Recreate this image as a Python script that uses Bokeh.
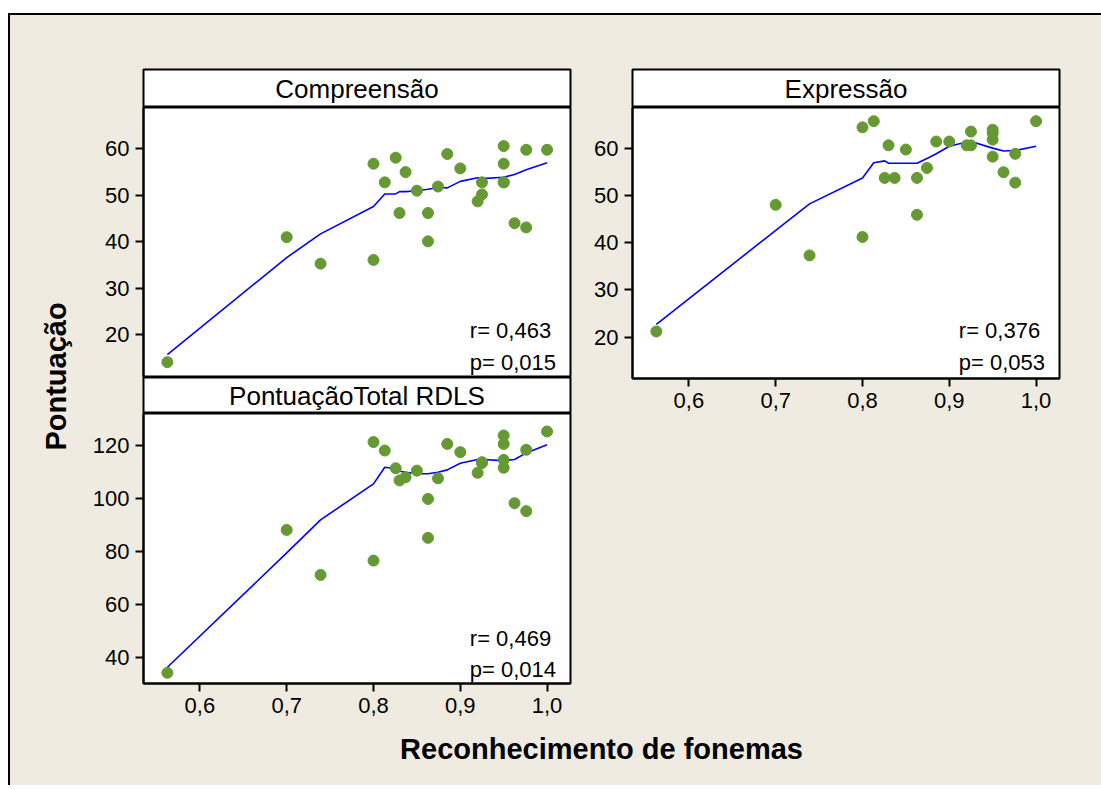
import math
from bokeh.plotting import figure
from bokeh.models import Range1d, LinearAxis, FixedTicker, CustomJSTickFormatter, Label
from bokeh.layouts import column, row
from bokeh.embed import file_html
from bokeh.resources import INLINE

# ---------------- data ----------------
fonemas = [0.5625, 0.70, 0.739, 0.80, 0.80, 0.813, 0.8256, 0.830, 0.837, 0.85,
           0.8628, 0.8628, 0.8743, 0.885, 0.90, 0.92, 0.925, 0.925,
           0.95, 0.95, 0.95, 0.95, 0.9625, 0.976, 0.976, 1.0]
compreensao = [14.1, 41.0, 35.3, 36.1, 56.8, 52.8, 58.1, 46.2, 55.0, 51.0,
               46.2, 40.1, 51.9, 58.9, 55.8, 48.7, 50.2, 52.8,
               60.6, 56.8, 52.8, 52.8, 44.0, 59.8, 43.1, 59.8]
expressao = [21.2, 48.0, 37.3, 41.2, 64.4, 65.7, 53.7, 60.6, 53.7, 59.7,
             53.7, 45.9, 55.8, 61.4, 61.4, 60.6, 63.5, 60.6,
             63.2, 63.9, 61.8, 58.2, 54.9, 58.8, 52.7, 65.7]
total_rdls = [34.1, 88.1, 71.1, 76.5, 121.3, 118.1, 111.4, 106.8, 108.0, 110.5,
              99.8, 85.1, 107.6, 120.6, 117.5, 109.7, 113.7, 113.4,
              123.8, 120.6, 114.6, 111.6, 98.2, 118.4, 95.2, 125.3]

# smoother (lowess) line vertices
fit_x = [0.5625, 0.70, 0.739, 0.80, 0.813, 0.8256, 0.830, 0.837, 0.85, 0.8628,
         0.8743, 0.885, 0.90, 0.92, 0.925, 0.95, 0.9625, 0.976, 1.0]
fit_comp = [15.7, 36.6, 41.7, 47.6, 50.3, 50.3, 50.8, 50.8, 51.0, 51.3,
            51.7, 51.6, 53.0, 53.8, 53.6, 53.9, 54.5, 55.5, 57.0]
fit_expr = [22.7, 42.6, 48.2, 53.7, 56.9, 57.3, 56.8, 56.8, 56.8, 56.8,
            57.8, 58.8, 60.4, 61.3, 61.4, 60.0, 59.4, 59.5, 60.4]
fit_total = [36.2, 79.4, 91.9, 105.5, 111.8, 111.2, 110.3, 109.9, 109.3, 109.3,
             109.9, 110.8, 113.3, 114.7, 114.7, 114.3, 114.7, 117.2, 120.3]

panel_titles = ["Compreensão", "Expressão", "PontuaçãoTotal RDLS"]
r_labels = ["r= 0,463", "r= 0,376", "r= 0,469"]
p_labels = ["p= 0,015", "p= 0,053", "p= 0,014"]
x_ticks = [0.6, 0.7, 0.8, 0.9, 1.0]
y_ticks_small = [20, 30, 40, 50, 60]
y_ticks_total = [40, 60, 80, 100, 120]
x_title = "Reconhecimento de fonemas"
y_title = "Pontuação"

# ---------------- styling ----------------
BG = "#EFEBE0"
GREEN = "#669933"
FONT = "Liberation Sans"
X_RANGE = (0.535, 1.027)
CONTENT_W = 1091


def base_fig(w, h, xr, yr, ml, mr, mt, mb, fill="white", outline=True):
    p = figure(width=w, height=h, x_range=Range1d(*xr), y_range=Range1d(*yr),
               x_axis_type=None, y_axis_type=None, output_backend="svg",
               toolbar_location=None, min_border_left=ml, min_border_right=mr,
               min_border_top=mt, min_border_bottom=mb)
    p.border_fill_color = BG
    p.background_fill_color = fill
    if outline:
        p.outline_line_color = "black"
        p.outline_line_width = 2
        p.outline_line_alpha = 1.0
    else:
        p.outline_line_color = None
    return p


def style_axis(ax):
    ax.axis_line_color = "black"
    ax.axis_line_width = 2
    ax.major_tick_line_color = "black"
    ax.major_tick_line_width = 2
    ax.major_tick_out = 8
    ax.major_tick_in = 0
    ax.minor_tick_out = 0
    ax.minor_tick_in = 0
    ax.major_label_text_font = FONT
    ax.major_label_text_font_size = "22px"
    ax.major_label_text_color = "black"
    ax.major_label_standoff = 6


def header(title, ml, mr, mt):
    h = base_fig(ml + 427 + mr, mt + 38 if mt else 36, (0, 1), (0, 1), ml, mr, mt, 0)
    h.add_layout(Label(x=0.5, y=0.5, text=title, text_align="center",
                       text_baseline="middle", text_font=FONT,
                       text_font_size="26px", text_color="black"))
    return h


def panel(xs, ys, fx, fy, yr, yticks, ml, mr, mb, frame_h, xaxis, rl, pl, ry, py_):
    p = base_fig(ml + 427 + mr, frame_h + mb, X_RANGE, yr, ml, mr, 0, mb)
    ya = LinearAxis(ticker=FixedTicker(ticks=yticks))
    style_axis(ya)
    p.add_layout(ya, "left")
    if xaxis:
        xa = LinearAxis(ticker=FixedTicker(ticks=x_ticks),
                        formatter=CustomJSTickFormatter(
                            code="return tick.toFixed(1).replace('.', ',');"))
        style_axis(xa)
        p.add_layout(xa, "below")
    p.line(fx, fy, line_color="#0000FF", line_width=1.6)
    p.scatter(xs, ys, size=11, marker="circle", fill_color=GREEN, line_color=GREEN)
    for txt, yy in ((rl, ry), (pl, py_)):
        p.add_layout(Label(x=0.911, y=yy, text=txt, text_align="left",
                           text_baseline="middle", text_font=FONT,
                           text_font_size="22px", text_color="black"))
    return p


# left column: Compreensão + Pontuação total
h1 = header(panel_titles[0], 63, 10, 54)
p1 = panel(fonemas, compreensao, fit_x, fit_comp, (10.8, 68.9), y_ticks_small,
           63, 10, 0, 270, False, r_labels[0], p_labels[0], 20.9, 14.0)
h3 = header(panel_titles[2], 63, 10, 0)
p3 = panel(fonemas, total_rdls, fit_x, fit_total, (30.05, 132.1), y_ticks_total,
           63, 10, 45, 270, True, r_labels[2], p_labels[2], 47.1, 35.3)

# right column: Expressão
right_mr = CONTENT_W - 70 - 500 - 52 - 427
h2 = header(panel_titles[1], 52, right_mr, 54)
p2 = panel(fonemas, expressao, fit_x, fit_expr, (11.25, 68.6), y_ticks_small,
           52, right_mr, 42, 271, True, r_labels[1], p_labels[1], 21.4, 14.6)

# y-axis title
ylab = base_fig(70, 713, (0, 70), (0, 713), 0, 0, 0, 0, fill=BG, outline=False)
ylab.add_layout(Label(x=45, y=352, text=y_title, angle=math.pi / 2,
                      text_align="center", text_baseline="middle",
                      text_font=FONT, text_font_style="bold",
                      text_font_size="29px", text_color="black"))

# x-axis title
XL_H = 57
xlab = base_fig(CONTENT_W, XL_H, (0, CONTENT_W), (0, XL_H), 0, 0, 0, 0, fill=BG, outline=False)
xlab.add_layout(Label(x=591, y=XL_H - 20, text=x_title, text_align="center",
                      text_baseline="middle", text_font=FONT,
                      text_font_style="bold", text_font_size="29px",
                      text_color="black"))

left_col = column(h1, p1, h3, p3)
right_col = column(h2, p2)
top = row(ylab, left_col, right_col)
page = column(top, xlab, margin=(13, 0, 0, 8),
              styles={"background-color": BG,
                      "border-left": "2px solid black",
                      "border-top": "2px solid black"})

open("out.html", "w").write(file_html(page, INLINE))
